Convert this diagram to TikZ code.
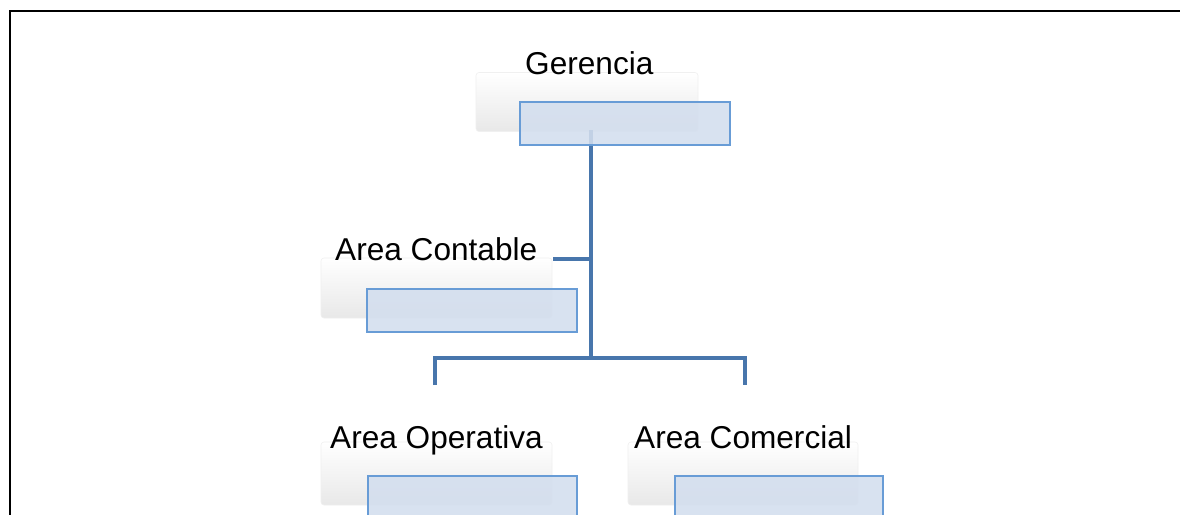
\documentclass[tikz,border=0pt]{standalone}
\usepackage{fontspec}
\setmainfont{Liberation Sans}
\definecolor{conn}{RGB}{72,118,172}
\definecolor{frontfill}{RGB}{211,222,238}
\definecolor{frontdraw}{RGB}{104,156,214}
\tikzset{
  backbox/.style={rectangle, rounded corners=3pt, minimum width=#1, inner sep=0pt,
    top color=white, bottom color=black!9, draw=black!6, line width=0.6pt},
  frontbox/.style={rectangle, fill=frontfill, fill opacity=0.88, draw=frontdraw, draw opacity=1,
    line width=2.6pt, inner sep=0pt},
  lbl/.style={anchor=base west, inner sep=0pt, font=\fontsize{31.6}{38}\selectfont},
  link/.style={draw=conn, line width=3.4pt}
}
\begin{document}
\begin{tikzpicture}[x=1pt,y=-1pt]
\useasboundingbox (0,0) rectangle (1180,514);
\clip (0,0) rectangle (1180,514);
\fill[white] (0,0) rectangle (1180,514);
% frame
\draw[line width=2.8pt, black] (10,560) -- (10,11) -- (1200,11);
% back boxes
\node[backbox=222pt, minimum height=59pt] (gb) at (587,102) {};
\node[backbox=231pt, minimum height=60pt] (cb) at (436.5,288) {};
\node[backbox=231pt, minimum height=63pt] (ob) at (436.5,473.5) {};
\node[backbox=230pt, minimum height=63pt] (mb) at (743,473.5) {};
% connectors
\coordinate (gtop) at (591,130);
\coordinate (junc) at (591,358);
\coordinate (cjoin) at (591,259);
\coordinate (cend) at (553,259);
\coordinate (ltop) at (435,358);
\coordinate (lbot) at (435,385);
\coordinate (rtop) at (745,358);
\coordinate (rbot) at (745,385);
\draw[link] (gtop) -- (junc);
\draw[link] (cjoin) -- (cend);
\draw[link, line join=miter] (lbot) -- (ltop) -- (rtop) -- (rbot);
% front boxes
\node[frontbox, minimum width=210pt, minimum height=43pt] (g) at (625,123.5) {};
\node[frontbox, minimum width=210pt, minimum height=43pt] (c) at (472,310.5) {};
\node[frontbox, minimum width=209pt, minimum height=60pt] (o) at (472.5,506) {};
\node[frontbox, minimum width=208pt, minimum height=60pt] (m) at (779,506) {};
% labels
\node[lbl] (gt) at (525,74) {Gerencia};
\node[lbl] (ct) at (335,260) {Area Contable};
\node[lbl] (ot) at (330,448) {Area Operativa};
\node[lbl] (mt) at (634,448) {Area Comercial};
\end{tikzpicture}
\end{document}
